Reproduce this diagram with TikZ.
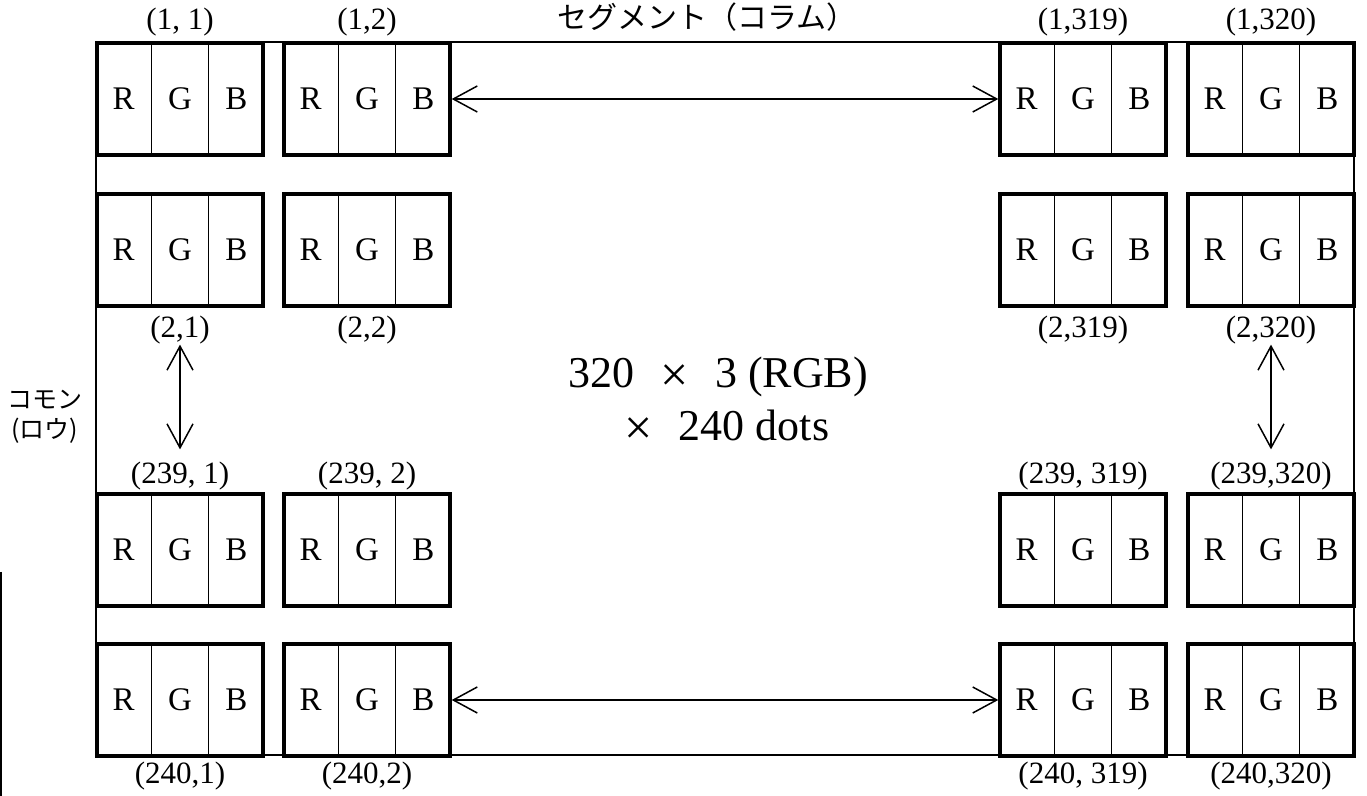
\documentclass[tikz,border=0pt]{standalone}
\usepackage{fontspec}
\setmainfont{Liberation Serif}
\newfontfamily\jpfont{Noto Sans CJK JP}
\usepackage{tikz}
\usetikzlibrary{arrows.meta,positioning,calc}

\newcommand{\bigtimes}{\raisebox{-2pt}{\fontsize{25}{25}\selectfont ×}}

\begin{document}
\begin{tikzpicture}[x=0.5pt, y=-0.5pt,
  pix/.style={draw, line width=1.7pt, minimum width=83pt, minimum height=56pt, inner sep=0pt},
  cellline/.style={line width=0.7pt},
  rgb/.style={font=\fontsize{16.5}{18}\selectfont, inner sep=0pt},
  coord/.style={font=\fontsize{15.5}{18}\selectfont, inner sep=0pt},
  jp/.style={font=\jpfont\fontsize{12.5}{15}\selectfont, inner sep=0pt},
  dbl/.style={{Straight Barb[length=12pt,width=13pt]}-{Straight Barb[length=12pt,width=13pt]}, line width=0.75pt}]
  \useasboundingbox (0,0) rectangle (1367,796);

  % outer frame
  \draw[line width=0.7pt] (96,42) rectangle (1354,755);
  \draw[line width=1.2pt] (1,572) -- (1,796);

  % pixels: row / column
  \foreach \r/\y in {1/99, 2/250, 239/550, 240/700}
    \foreach \c/\x in {1/180, 2/367, 319/1083, 320/1271} {
      \node[pix] (px-\r-\c) at (\x,\y) {};
      \draw[cellline] ($(px-\r-\c.north west)!1/3!(px-\r-\c.north east)$) -- ($(px-\r-\c.south west)!1/3!(px-\r-\c.south east)$);
      \draw[cellline] ($(px-\r-\c.north west)!2/3!(px-\r-\c.north east)$) -- ($(px-\r-\c.south west)!2/3!(px-\r-\c.south east)$);
      \node[rgb] (px-\r-\c-r) at ($(px-\r-\c.west)!1/6!(px-\r-\c.east)$) {R};
      \node[rgb] (px-\r-\c-g) at (px-\r-\c) {G};
      \node[rgb] (px-\r-\c-b) at ($(px-\r-\c.west)!5/6!(px-\r-\c.east)$) {B};
    }

  % coordinates
  \foreach \c/\t in {1/{(1, 1)}, 2/{(1,2)}, 319/{(1,319)}, 320/{(1,320)}}
    \node[coord, above=2.5pt of px-1-\c] (lb-1-\c) {\t};
  \foreach \c/\t in {1/{(2,1)}, 2/{(2,2)}, 319/{(2,319)}, 320/{(2,320)}}
    \node[coord, below=4pt of px-2-\c] (lb-2-\c) {\t};
  \foreach \c/\t in {1/{(239, 1)}, 2/{(239, 2)}, 319/{(239, 319)}, 320/{(239,320)}}
    \node[coord, above=1pt of px-239-\c] (lb-239-\c) {\t};
  \foreach \c/\t in {1/{(240,1)}, 2/{(240,2)}, 319/{(240, 319)}, 320/{(240,320)}}
    \node[coord, below=2pt of px-240-\c] (lb-240-\c) {\t};

  % segment / common
  \node[jp, font=\jpfont\fontsize{15}{17}\selectfont] (seg) at (707,17) {セグメント（コラム）};
  \node[jp] (com) at (45,400) {コモン};
  \node[jp] (row) at (45,431) {(ロウ)};

  \draw[dbl] (px-1-2) -- (px-1-319);
  \draw[dbl] (px-240-2) -- (px-240-319);
  \draw[dbl, shorten <=0pt, shorten >=6pt] (lb-2-1.south) -- (lb-2-1.south |- lb-239-1.north);
  \draw[dbl, shorten <=0pt, shorten >=6pt] (lb-2-320.south) -- (lb-2-320.south |- lb-239-320.north);

  % dot count
  \node[font=\fontsize{22}{26.5}\selectfont, align=center, inner sep=0pt] (dots) at (718,401)
    {320\hspace{0.6em}\bigtimes\hspace{0.6em}3 (RGB)\\\hspace{0.4em}\bigtimes\hspace{0.6em}240 dots};
\end{tikzpicture}
\end{document}
